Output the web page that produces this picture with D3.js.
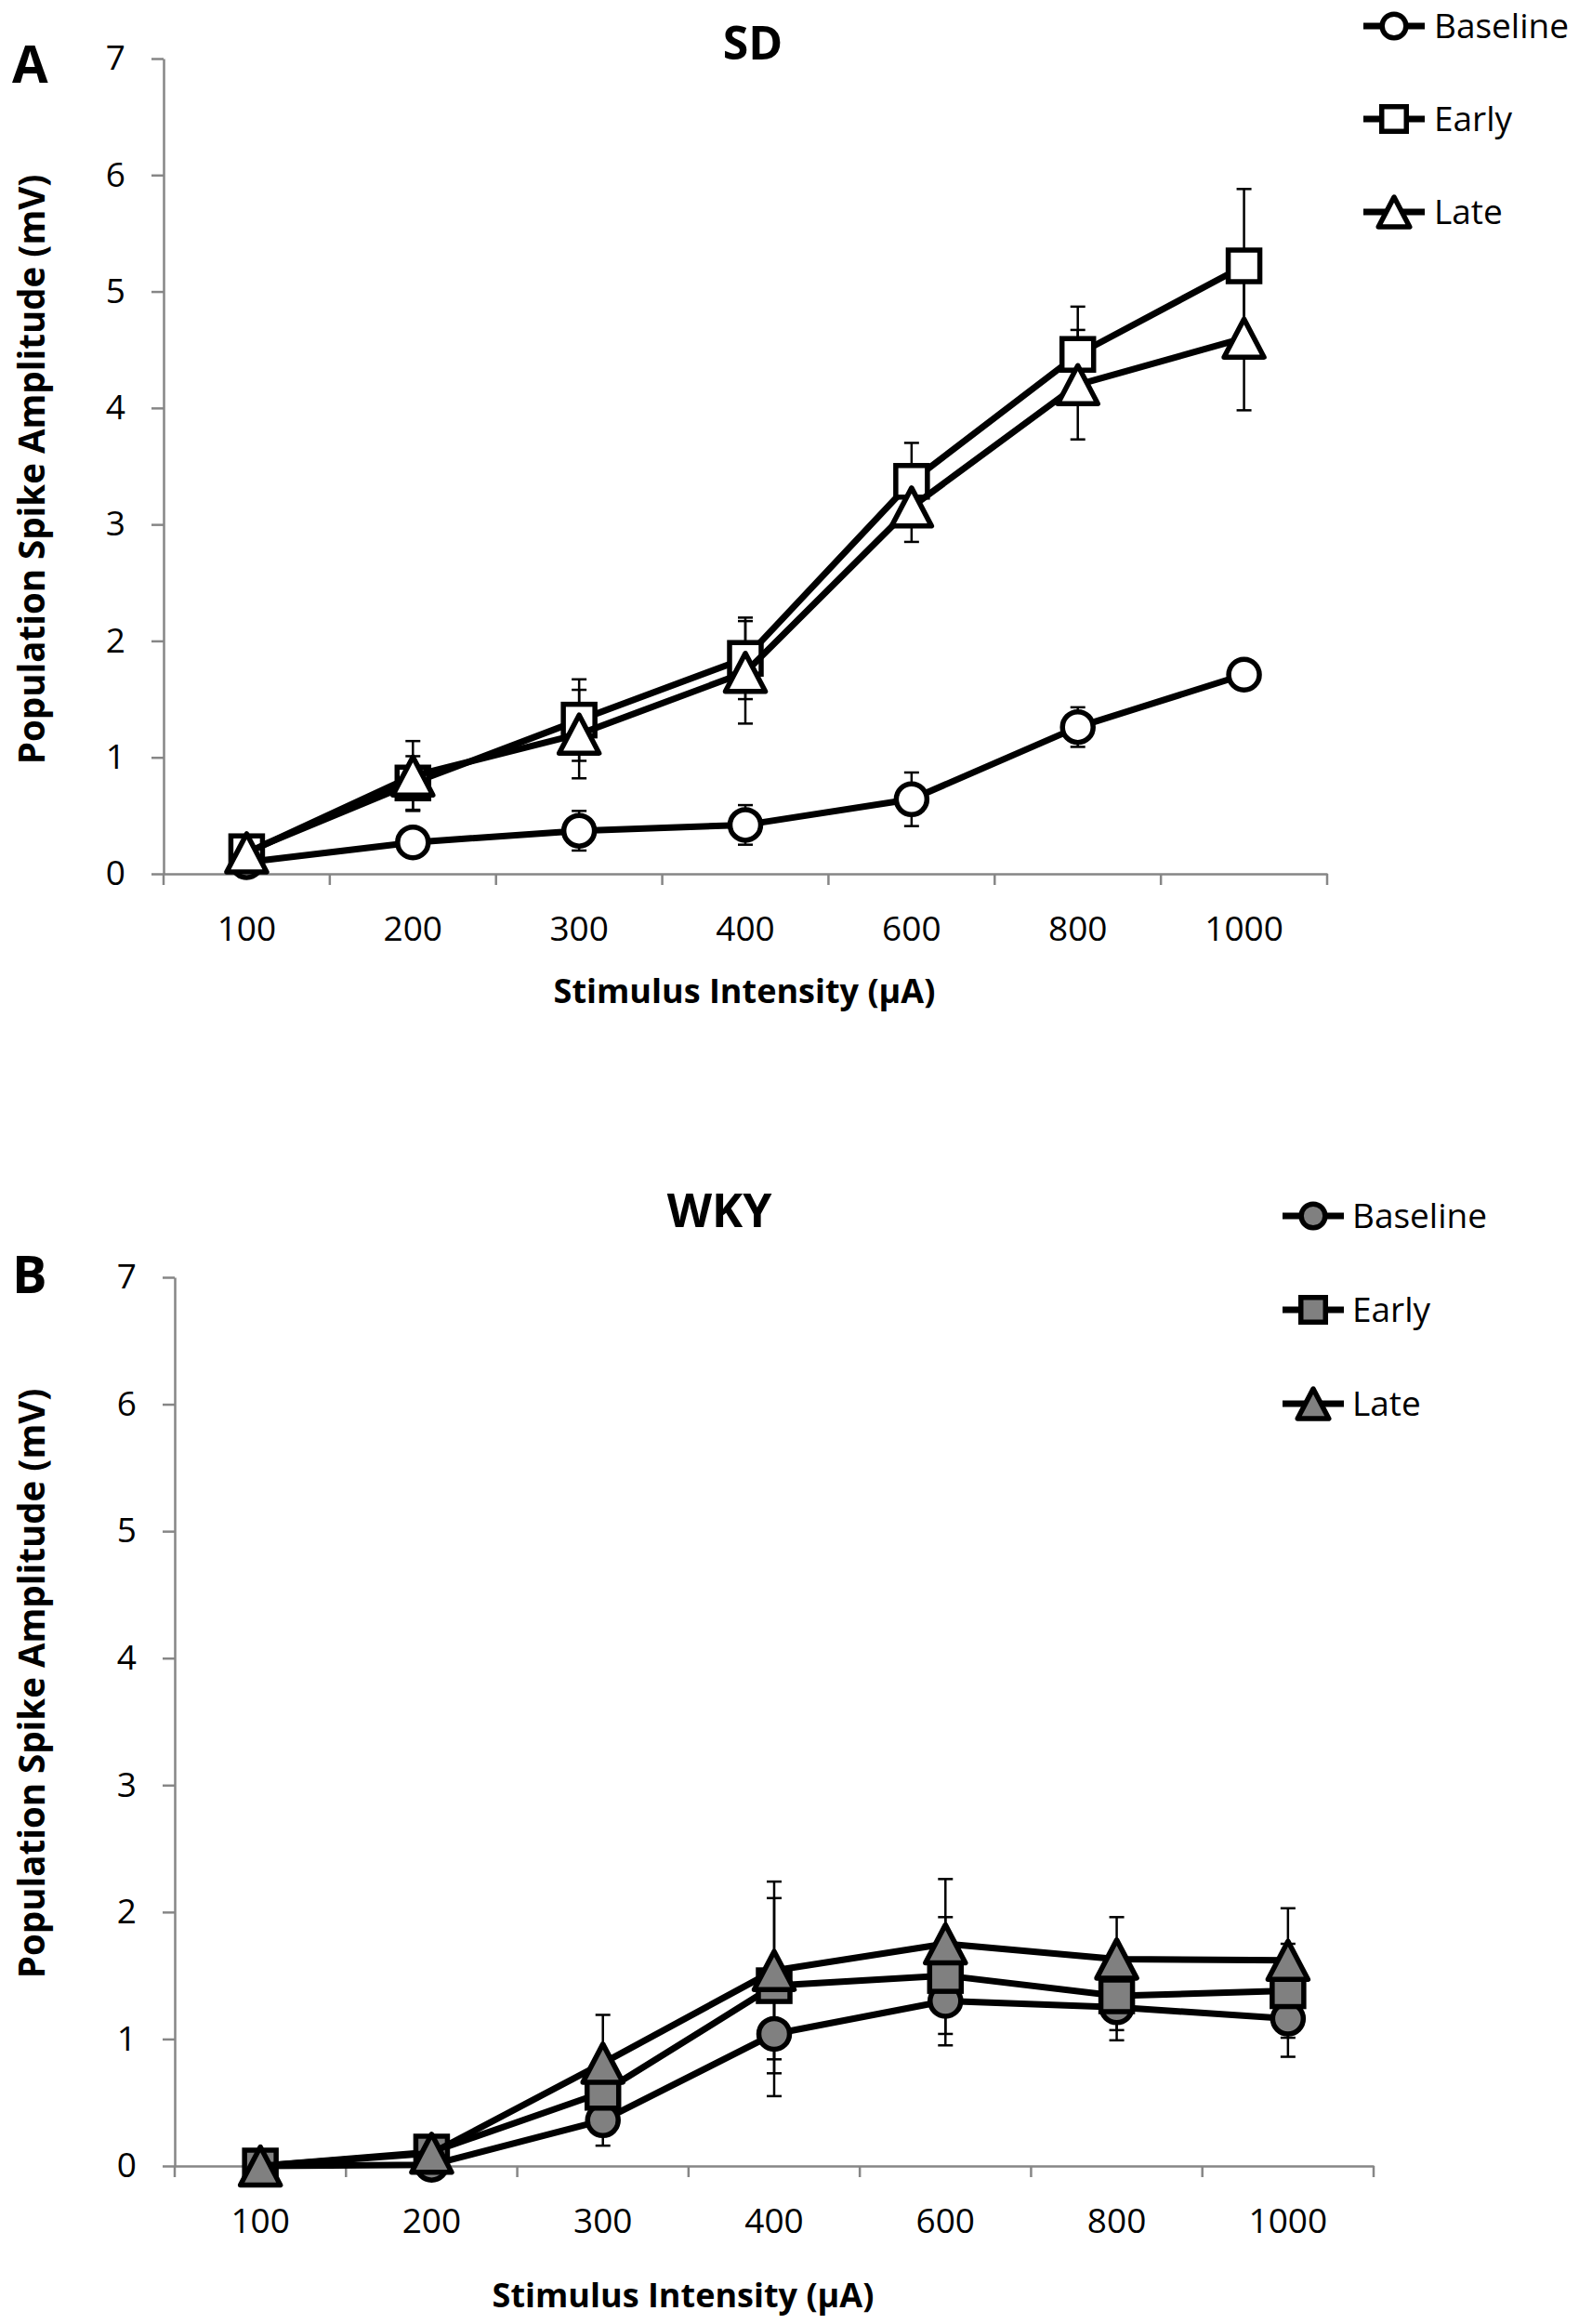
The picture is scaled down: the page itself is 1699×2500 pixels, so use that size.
<!DOCTYPE html>
<html>
<head>
<meta charset="utf-8">
<script src="https://cdn.jsdelivr.net/npm/d3@7"></script>
<style>
  body { margin: 0; background: #fff; }
  svg text { font-family: "Open Sans", "DejaVu Sans", sans-serif; fill: #000; }
</style>
</head>
<body>
<div id="chart"></div>
<script>
// categories and ticks
const intensities = ["100", "200", "300", "400", "600", "800", "1000"];
const seriesNames = ["Baseline", "Early", "Late"];
const yTicks = [0, 1, 2, 3, 4, 5, 6, 7];

// SD (panel A) means and SEM, mV
const sdBaseline = [0.10, 0.27, 0.37, 0.42, 0.64, 1.26, 1.71];
const sdBaselineErr = [0.04, 0.06, 0.17, 0.17, 0.23, 0.17, 0.06];
const sdEarly = [0.19, 0.78, 1.32, 1.85, 3.37, 4.46, 5.22];
const sdEarlyErr = [0.05, 0.23, 0.35, 0.35, 0.33, 0.41, 0.66];
const sdLate = [0.18, 0.84, 1.20, 1.73, 3.15, 4.20, 4.60];
const sdLateErr = [0.05, 0.30, 0.38, 0.44, 0.30, 0.47, 0.62];

// WKY (panel B)
const wkyBaseline = [0.00, 0.01, 0.36, 1.04, 1.30, 1.25, 1.16];
const wkyBaselineErr = [0.00, 0.02, 0.20, 0.49, 0.35, 0.26, 0.30];
const wkyEarly = [0.00, 0.11, 0.58, 1.42, 1.50, 1.34, 1.38];
const wkyEarlyErr = [0.00, 0.03, 0.22, 0.69, 0.46, 0.27, 0.37];
const wkyLate = [0.00, 0.10, 0.81, 1.54, 1.75, 1.63, 1.62];
const wkyLateErr = [0.00, 0.03, 0.38, 0.70, 0.51, 0.33, 0.41];

const W = 1699, H = 2500;
const axisColor = "#868686";

const svg = d3.select("#chart").append("svg")
    .attr("width", W)
    .attr("height", H);

const panels = [
    {
        letter: "A", title: "SD", fill: "#ffffff",
        series: [[sdBaseline, sdBaselineErr], [sdEarly, sdEarlyErr], [sdLate, sdLateErr]],
        left: 176, right: 1428, top: 63, bottom: 940,
        letterY: 89, titleX: 810, titleY: 64,
        xTitleX: 801, xTitleY: 1079, yTitleX: 35, yTitleY: 505,
        legX: 1500, legY: [28, 128, 228], legText: 1543
    },
    {
        letter: "B", title: "WKY", fill: "#808080",
        series: [[wkyBaseline, wkyBaselineErr], [wkyEarly, wkyEarlyErr], [wkyLate, wkyLateErr]],
        left: 188, right: 1478, top: 1374, bottom: 2330,
        letterY: 1391, titleX: 774, titleY: 1320,
        xTitleX: 735, xTitleY: 2482, yTitleX: 35, yTitleY: 1811,
        legX: 1413, legY: [1308, 1409, 1510], legText: 1455
    }
];

// marker drawing, one shape per series
function drawMarker(sel, kind, cx, cy, s, fill) {
    if (kind === 0) {
        sel.append("circle").attr("cx", cx).attr("cy", cy).attr("r", 16.5 * s)
            .attr("fill", fill).attr("stroke", "#000").attr("stroke-width", 5.5);
    } else if (kind === 1) {
        const a = 34 * s;
        sel.append("rect").attr("x", cx - a / 2).attr("y", cy - a / 2)
            .attr("width", a).attr("height", a)
            .attr("fill", fill).attr("stroke", "#000").attr("stroke-width", 5.5);
    } else {
        const w = 43 * s, h = 41 * s;
        sel.append("path")
            .attr("d", d3.line()([[cx, cy - h / 2], [cx + w / 2, cy + h / 2], [cx - w / 2, cy + h / 2]]) + "Z")
            .attr("fill", fill).attr("stroke", "#000").attr("stroke-width", 5.5)
            .attr("stroke-linejoin", "round");
    }
}

panels.forEach(p => {
    const g = svg.append("g");

    const x = d3.scaleBand().domain(intensities).range([p.left, p.right]);
    const y = d3.scaleLinear().domain([0, 7]).range([p.bottom, p.top]);

    // y axis
    const yAxis = g.append("g")
        .attr("transform", "translate(" + p.left + ",0)")
        .call(d3.axisLeft(y).tickValues(yTicks).tickFormat(d3.format("d"))
            .tickSize(13).tickSizeOuter(0).tickPadding(28));
    yAxis.select(".domain").attr("stroke", axisColor).attr("stroke-width", 2.5);
    yAxis.selectAll(".tick line").attr("stroke", axisColor).attr("stroke-width", 2.5);
    yAxis.selectAll(".tick text").attr("font-size", 37).attr("font-family", "Open Sans");

    // x axis: labels at band centres, ticks at band edges
    const xAxis = g.append("g")
        .attr("transform", "translate(0," + p.bottom + ")")
        .call(d3.axisBottom(x).tickSize(0).tickSizeOuter(0).tickPadding(46));
    xAxis.select(".domain").attr("stroke", axisColor).attr("stroke-width", 2.5);
    xAxis.selectAll(".tick text").attr("font-size", 37).attr("font-family", "Open Sans");
    xAxis.selectAll(".edge")
        .data(d3.range(intensities.length + 1))
        .enter().append("line")
        .attr("x1", i => p.left + i * x.step())
        .attr("x2", i => p.left + i * x.step())
        .attr("y1", 0).attr("y2", 12)
        .attr("stroke", axisColor).attr("stroke-width", 2.5);

    // titles
    g.append("text").attr("x", 13).attr("y", p.letterY)
        .attr("font-size", 56).attr("font-weight", "bold").text(p.letter);
    g.append("text").attr("x", p.titleX).attr("y", p.titleY)
        .attr("text-anchor", "middle").attr("font-size", 50).attr("font-weight", "bold").text(p.title);
    g.append("text").attr("x", p.xTitleX).attr("y", p.xTitleY)
        .attr("text-anchor", "middle").attr("font-size", 36).attr("font-weight", "bold")
        .text("Stimulus Intensity (\u03bcA)");
    g.append("text")
        .attr("transform", "translate(" + (p.yTitleX + 13) + "," + p.yTitleY + ") rotate(-90)")
        .attr("text-anchor", "middle").attr("font-size", 38.5).attr("font-weight", "bold")
        .text("Population Spike Amplitude (mV)");

    const cx = d => x(d) + x.bandwidth() / 2;

    // error bars behind everything
    p.series.forEach(([vals, errs]) => {
        const eb = g.append("g").attr("stroke", "#000").attr("stroke-width", 2.5);
        intensities.forEach((c, i) => {
            if (errs[i] <= 0) return;
            const y1 = y(vals[i] + errs[i]), y2 = y(vals[i] - errs[i]);
            eb.append("line").attr("x1", cx(c)).attr("x2", cx(c)).attr("y1", y1).attr("y2", y2);
            eb.append("line").attr("x1", cx(c) - 8).attr("x2", cx(c) + 8).attr("y1", y1).attr("y2", y1);
            eb.append("line").attr("x1", cx(c) - 8).attr("x2", cx(c) + 8).attr("y1", y2).attr("y2", y2);
        });
    });

    // lines + markers per series
    const line = d3.line().x((d, i) => cx(intensities[i])).y(d => y(d));
    p.series.forEach(([vals], k) => {
        const sg = g.append("g");
        sg.append("path").attr("d", line(vals))
            .attr("fill", "none").attr("stroke", "#000").attr("stroke-width", 7)
            .attr("stroke-linejoin", "round");
        intensities.forEach((c, i) => drawMarker(sg, k, cx(c), y(vals[i]), 1, p.fill));
    });

    // legend
    seriesNames.forEach((name, k) => {
        const lg = g.append("g");
        const ly = p.legY[k];
        lg.append("line").attr("x1", p.legX - 33).attr("x2", p.legX + 33)
            .attr("y1", ly).attr("y2", ly).attr("stroke", "#000").attr("stroke-width", 7);
        drawMarker(lg, k, p.legX, ly, 0.78, p.fill);
        lg.append("text").attr("x", p.legText).attr("y", ly).attr("dy", "0.36em")
            .attr("font-size", 37).text(name);
    });
});
</script>
</body>
</html>
